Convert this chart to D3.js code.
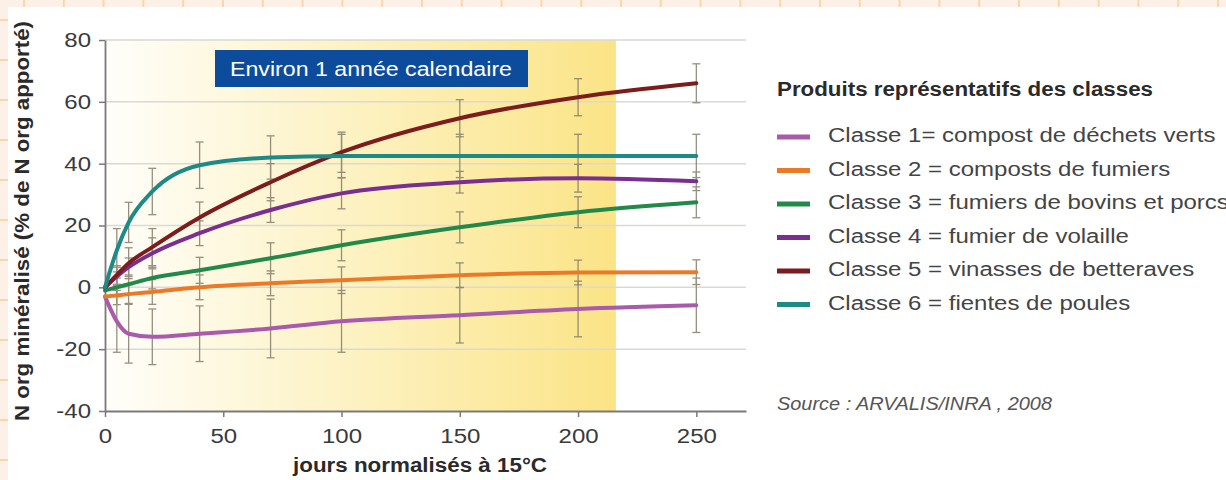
<!DOCTYPE html>
<html><head><meta charset="utf-8">
<script src="https://cdn.jsdelivr.net/npm/d3@7"></script>
<style>
html,body{margin:0;padding:0;background:#fff;}
svg{display:block;font-family:"Liberation Sans",Arial,sans-serif;}
</style></head>
<body><svg id="c" width="1226" height="480"></svg>
<script>
// ---------- data ----------
const days = [0, 5, 10, 20, 40, 70, 100, 150, 200, 250];
const classLabels = [
  "Classe 1= compost de déchets verts",
  "Classe 2 = composts de fumiers",
  "Classe 3 = fumiers de bovins et porcs",
  "Classe 4 = fumier de volaille",
  "Classe 5 = vinasses de betteraves",
  "Classe 6 = fientes de poules"
];
const classe1 = [-3, -11, -15, -16, -15, -13.3, -11, -9, -7, -5.8];
const classe2 = [-3, -2.6, -2.2, -1.5, 0, 1.3, 2.3, 3.9, 4.8, 4.9];
const classe3 = [-1, 0, 1, 3, 5.5, 9.4, 13.6, 19.4, 24.3, 27.5];
const classe4 = [0, 3.5, 6.5, 11, 17.5, 25, 30.4, 34, 35.3, 34.3];
const classe5 = [0, 4, 7.8, 13, 22.6, 34, 43.7, 54.7, 61.5, 66];
const classe6 = [0, 12, 21, 31, 39.5, 42, 42.5, 42.5, 42.5, 42.5];
const err1 = [0, 10, 9.5, 9, 9, 9.5, 10, 9, 9, 8.8];
const err2 = [0, 3, 3, 4, 4, 4, 4.3, 4, 4, 4];
const err3 = [0, 3, 3, 3.5, 4.2, 5, 5, 5, 5, 5];
const err4 = [0, 3, 3, 5, 4, 4, 5, 3.5, 4.5, 3];
const err5 = [0, 3, 5, 6, 5, 6, 6.5, 6, 6, 6.3];
const err6 = [0, 7, 6.5, 7.5, 7.5, 7, 7, 7, 7, 7];
const xTicks = [0, 50, 100, 150, 200, 250];
const yTicks = [-40, -20, 0, 20, 40, 60, 80];
const yearEnd = 216;
const boxText = "Environ 1 année calendaire";
const yTitle = "N org minéralisé (% de N org apporté)";
const xTitle = "jours normalisés à 15°C";
const legendTitle = "Produits représentatifs des classes";
const sourceText = "Source : ARVALIS/INRA , 2008";

const colors = ["#a95aaa", "#ea7a28", "#22894b", "#7a2f90", "#7d1c1c", "#1d8a85"];
const seriesVals = [classe1, classe2, classe3, classe4, classe5, classe6];
const seriesErr = [err1, err2, err3, err4, err5, err6];

// ---------- drawing ----------
const svg = d3.select("#c");
const K = 1.2;
function stretch(sel, k) {
  sel.each(function () {
    const l = this.getComputedTextLength();
    d3.select(this).attr("textLength", l * k).attr("lengthAdjust", "spacingAndGlyphs");
  });
}
function fit(sel, w) {
  sel.attr("textLength", w).attr("lengthAdjust", "spacingAndGlyphs");
}

// page background with orange grid
svg.append("rect").attr("width", 1226).attr("height", 480).attr("fill", "#fdf0e6");
const bg = svg.append("g").attr("stroke", "#fbd6ac").attr("stroke-width", 2);
d3.range(24, 1226, 39.8).forEach(x => bg.append("line").attr("x1", x).attr("x2", x).attr("y1", 0).attr("y2", 480));
d3.range(20, 480, 40).forEach(y => bg.append("line").attr("x1", 0).attr("x2", 1226).attr("y1", y).attr("y2", y));
svg.append("rect").attr("x", 8).attr("y", 7).attr("width", 1218).attr("height", 473).attr("fill", "#ffffff");

const x = d3.scaleLinear().domain([0, 271]).range([105, 746]);
const y = d3.scaleLinear().domain([-40, 80]).range([411, 40]);

// gradient band
const defs = svg.append("defs");
const grad = defs.append("linearGradient").attr("id", "band").attr("x1", "0").attr("x2", "1").attr("y1", "0").attr("y2", "0");
grad.append("stop").attr("offset", "0%").attr("stop-color", "#fffefa");
grad.append("stop").attr("offset", "40%").attr("stop-color", "#fdf4cc");
grad.append("stop").attr("offset", "100%").attr("stop-color", "#fbe486");
svg.append("rect").attr("x", x(0)).attr("y", y(80)).attr("width", x(yearEnd) - x(0)).attr("height", y(-40) - y(80)).attr("fill", "url(#band)");

// gridlines
svg.append("g").selectAll("line").data(yTicks.filter(d => d > -40)).join("line")
  .attr("x1", x(0)).attr("x2", x(271)).attr("y1", d => y(d)).attr("y2", d => y(d))
  .attr("stroke", "#d9d9d6").attr("stroke-width", 1.5);

// axes
const yAxis = svg.append("g").attr("transform", `translate(${x(0)},0)`)
  .call(d3.axisLeft(y).tickValues(yTicks).tickFormat(d => String(d)).tickSize(6).tickPadding(8).tickSizeOuter(0));
const xAxis = svg.append("g").attr("transform", `translate(0,${y(-40)})`)
  .call(d3.axisBottom(x).tickValues(xTicks).tickFormat(d => String(d)).tickSize(6).tickPadding(12).tickSizeOuter(0));
[yAxis, xAxis].forEach(a => {
  a.select(".domain").attr("stroke", "#7a7a7a").attr("stroke-width", 1.8);
  a.selectAll(".tick line").attr("stroke", "#7a7a7a").attr("stroke-width", 1.5);
  a.selectAll("text").attr("font-size", 20).attr("fill", "#3a3a3a").attr("font-family", "Liberation Sans, Arial, sans-serif");
});
stretch(yAxis.selectAll("text"), K);
stretch(xAxis.selectAll("text"), K);

// error bars
const eb = svg.append("g").attr("stroke", "#857d6c").attr("stroke-width", 1.3).attr("opacity", 0.85);
seriesVals.forEach((vals, si) => {
  vals.forEach((v, i) => {
    const e = seriesErr[si][i];
    if (!e) return;
    const cx = x(days[i]);
    eb.append("line").attr("x1", cx).attr("x2", cx).attr("y1", y(v - e)).attr("y2", y(v + e));
    eb.append("line").attr("x1", cx - 4).attr("x2", cx + 4).attr("y1", y(v - e)).attr("y2", y(v - e));
    eb.append("line").attr("x1", cx - 4).attr("x2", cx + 4).attr("y1", y(v + e)).attr("y2", y(v + e));
  });
});

// series lines
const line = d3.line().x((d, i) => x(days[i])).y(d => y(d)).curve(d3.curveMonotoneX);
seriesVals.forEach((vals, si) => {
  svg.append("path").attr("d", line(vals)).attr("fill", "none")
    .attr("stroke", colors[si]).attr("stroke-width", 4).attr("stroke-linecap", "round");
});

// year box
svg.append("rect").attr("x", 215).attr("y", 50).attr("width", 313).attr("height", 37).attr("fill", "#0d4c9c");
fit(svg.append("text").attr("x", 371).attr("y", 76).attr("text-anchor", "middle")
  .attr("font-size", 20).attr("fill", "#ffffff").text(boxText), 282);

// axis titles
fit(svg.append("text").attr("transform", "translate(29,221) rotate(-90)").attr("text-anchor", "middle")
  .attr("font-size", 20).attr("font-weight", "bold").attr("fill", "#2a2a2a").text(yTitle), 400);
fit(svg.append("text").attr("x", 420).attr("y", 472).attr("text-anchor", "middle")
  .attr("font-size", 20).attr("font-weight", "bold").attr("fill", "#2a2a2a").text(xTitle), 254);

// legend
fit(svg.append("text").attr("x", 777).attr("y", 96).attr("font-size", 20).attr("font-weight", "bold")
  .attr("fill", "#2a2a2a").text(legendTitle), 376);
const lg = svg.append("g").selectAll("g").data(classLabels).join("g")
  .attr("transform", (d, i) => `translate(0,${135 + i * 33.5})`);
lg.append("line").attr("x1", 777).attr("x2", 810).attr("y1", 2).attr("y2", 2)
  .attr("stroke", (d, i) => colors[i]).attr("stroke-width", 5);
const lt = lg.append("text").attr("x", 828).attr("y", 7).attr("font-size", 20).attr("fill", "#444").text(d => d);
stretch(lt, K);

fit(svg.append("text").attr("x", 777).attr("y", 410).attr("font-size", 18).attr("font-style", "italic")
  .attr("fill", "#555").text(sourceText), 275);
</script></body></html>
